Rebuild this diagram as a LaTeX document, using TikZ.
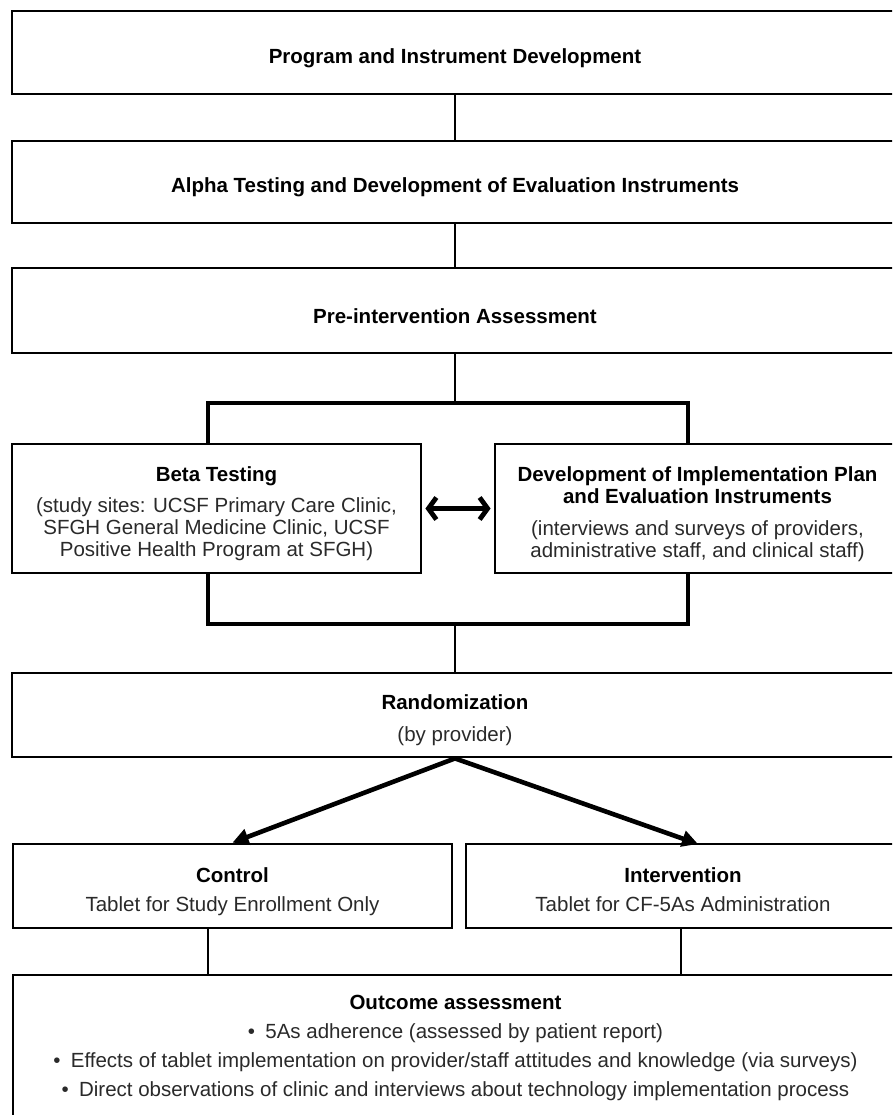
\documentclass[tikz,border=0pt]{standalone}
\usepackage{fontspec}
\setmainfont{Liberation Sans}
\usetikzlibrary{arrows.meta}
\definecolor{sub}{HTML}{2A2A2A}
\newcommand\topup{\rule{0pt}{26pt}}
\begin{document}
\begin{tikzpicture}[x=1pt,y=-1pt,
  every node/.style={font=\fontsize{20.5}{22}\selectfont, text=sub},
  box/.style={draw=black, line width=2.8pt, inner sep=0pt, align=center},
  conn/.style={draw=black, line width=2.3pt},
  brk/.style={draw=black, line width=3.2pt, line join=miter},
  arr/.style={draw=black, line width=4.6pt, -{Triangle[length=16pt,width=16pt]}},
  dbl/.style={draw=black, line width=4.8pt, {Straight Barb[length=8pt,width=22pt]}-{Straight Barb[length=8pt,width=22pt]}, shorten <=3pt, shorten >=3pt}]
\useasboundingbox (0,0) rectangle (892,1115);
\clip (0,0) rectangle (892,1115);
\fill[white] (0,0) rectangle (892,1115);

\node[box, minimum width=886pt, minimum height=83pt] (b1) at (455,52.5)
  {\topup\textbf{\color{black}Program and Instrument Development}};
\node[box, minimum width=886pt, minimum height=82pt] (b2) at (455,182)
  {\topup\textbf{\color{black}Alpha Testing and Development of Evaluation Instruments}};
\node[box, minimum width=886pt, minimum height=85pt] (b3) at (455,310.5)
  {\topup\textbf{\color{black}Pre-intervention Assessment}};

\node[box, minimum width=409pt, minimum height=129pt] (beta) at (216.5,508.5)
  {\topup\textbf{\color{black}Beta Testing}\\[9pt]
   (study sites: UCSF Primary Care Clinic,\\
   SFGH General Medicine Clinic, UCSF\\
   Positive Health Program at SFGH)};
\node[box, minimum width=405pt, minimum height=129pt] (dev) at (697.5,508.5)
  {\topup\textbf{\color{black}Development of Implementation Plan}\\
   \textbf{\color{black}and Evaluation Instruments}\\[10pt]
   (interviews and surveys of providers,\\
   administrative staff, and clinical staff)};

\node[box, minimum width=886pt, minimum height=84pt] (rand) at (455,715)
  {\topup\textbf{\color{black}Randomization}\\[10pt](by provider)};

\node[box, minimum width=439pt, minimum height=84pt] (control) at (232.5,886)
  {\topup\textbf{\color{black}Control}\\[7pt]Tablet for Study Enrollment Only};
\node[box, minimum width=434pt, minimum height=84pt] (interv) at (683,886)
  {\topup\textbf{\color{black}Intervention}\\[7pt]Tablet for CF-5As Administration\vphantom{y}};

\node[box, minimum width=885pt, minimum height=145pt] (outcome) at (455.5,1047.5)
  {\textbf{\color{black}Outcome assessment}\\[7pt]
   •\enspace 5As adherence (assessed by patient report)\\[7pt]
   •\enspace Effects of tablet implementation on provider/staff attitudes and knowledge (via surveys)\\[7pt]
   •\enspace Direct observations of clinic and interviews about technology implementation process};

\coordinate (bt) at (455,403);
\coordinate (btl) at (208,403);
\coordinate (btr) at (688,403);
\coordinate (bbl) at (208,624);
\coordinate (bbr) at (688,624);
\coordinate (itip) at (698,844);
\coordinate (ix) at (681,0);

\draw[conn] (b1.south) -- (b2.north);
\draw[conn] (b2.south) -- (b3.north);
\draw[conn] (b3.south) -- (bt);
\draw[brk] (beta.north -| btl) -- (btl) -- (btr) -- (dev.north -| btr);
\draw[brk] (beta.south -| bbl) -- (bbl) -- (bbr) -- (dev.south -| bbr);
\draw[conn] (bbl -| bt) -- (rand.north);
\draw[dbl] (beta.east) -- (dev.west);
\draw[arr] (rand.south) -- (control.north);
\draw[arr] (rand.south) -- (itip);
\draw[conn] (control.south -| btl) -- (outcome.north -| btl);
\draw[conn] (interv.south -| ix) -- (outcome.north -| ix);
\end{tikzpicture}
\end{document}
